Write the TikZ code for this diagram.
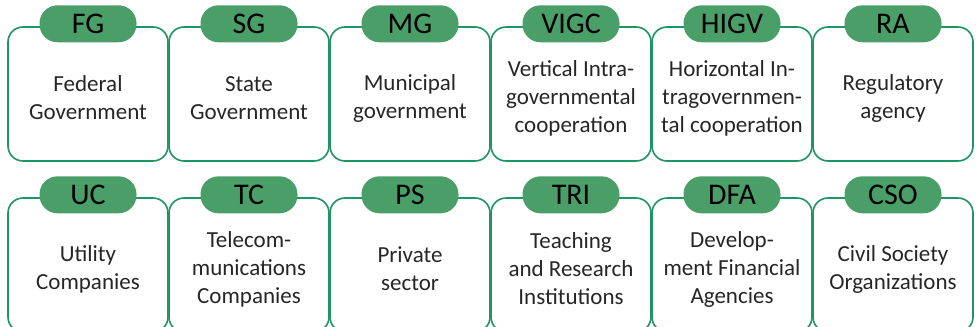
\documentclass[tikz,border=0pt]{standalone}
\usepackage{fontspec}
\setmainfont{Carlito}
\usetikzlibrary{positioning}
\definecolor{edgegreen}{RGB}{30,150,100}
\definecolor{tagfill}{RGB}{74,158,104}
\definecolor{bodytext}{RGB}{38,38,38}

\begin{document}
\begin{tikzpicture}[x=0.5pt,y=-0.5pt,
  unit/.style={draw=edgegreen,line width=.8pt,rounded corners=7.5pt,minimum width=80pt,minimum height=67pt,inner sep=0pt},
  tag/.style={fill=tagfill,rounded corners=9pt,minimum width=48.5pt,minimum height=18.5pt,inner sep=0pt,font=\fontsize{15pt}{18pt}\selectfont,yshift=1.2pt},
  body/.style={align=center,text=bodytext,font=\fontsize{11.5pt}{14pt}\selectfont,yshift=-2pt}]
\useasboundingbox (0,0) rectangle (977,326);
\clip (0,0) rectangle (977,326);
\node[unit] (fg) at (88,94) {};
\node[unit] (sg) at (249,94) {};
\node[unit] (mg) at (410,94) {};
\node[unit] (vigc) at (571,94) {};
\node[unit] (higv) at (732,94) {};
\node[unit] (ra) at (893,94) {};
\node[unit] (uc) at (88,265) {};
\node[unit] (tc) at (249,265) {};
\node[unit] (ps) at (410,265) {};
\node[unit] (tri) at (571,265) {};
\node[unit] (dfa) at (732,265) {};
\node[unit] (cso) at (893,265) {};
\node[tag] at (fg.north) {FG};
\node[tag] at (sg.north) {SG};
\node[tag] at (mg.north) {MG};
\node[tag] at (vigc.north) {VIGC};
\node[tag] at (higv.north) {HIGV};
\node[tag] at (ra.north) {RA};
\node[tag] at (uc.north) {UC};
\node[tag] at (tc.north) {TC};
\node[tag] at (ps.north) {PS};
\node[tag] at (tri.north) {TRI};
\node[tag] at (dfa.north) {DFA};
\node[tag] at (cso.north) {CSO};
\node[body] at (fg.center) {Federal\\Government};
\node[body] at (sg.center) {State\\Government};
\node[body] at (mg.center) {Municipal\\government};
\node[body] at (vigc.center) {Vertical Intra-\\governmental\\cooperation};
\node[body] at (higv.center) {Horizontal In-\\tragovernmen-\\tal cooperation};
\node[body] at (ra.center) {Regulatory\\agency};
\node[body] at (uc.center) {Utility\\Companies};
\node[body] at (tc.center) {Telecom-\\munications\\Companies};
\node[body] at (ps.center) {Private\\sector};
\node[body] at (tri.center) {Teaching\\and Research\\Institutions};
\node[body] at (dfa.center) {Develop-\\ment Financial\\Agencies};
\node[body] at (cso.center) {Civil Society\\Organizations};
\end{tikzpicture}
\end{document}
